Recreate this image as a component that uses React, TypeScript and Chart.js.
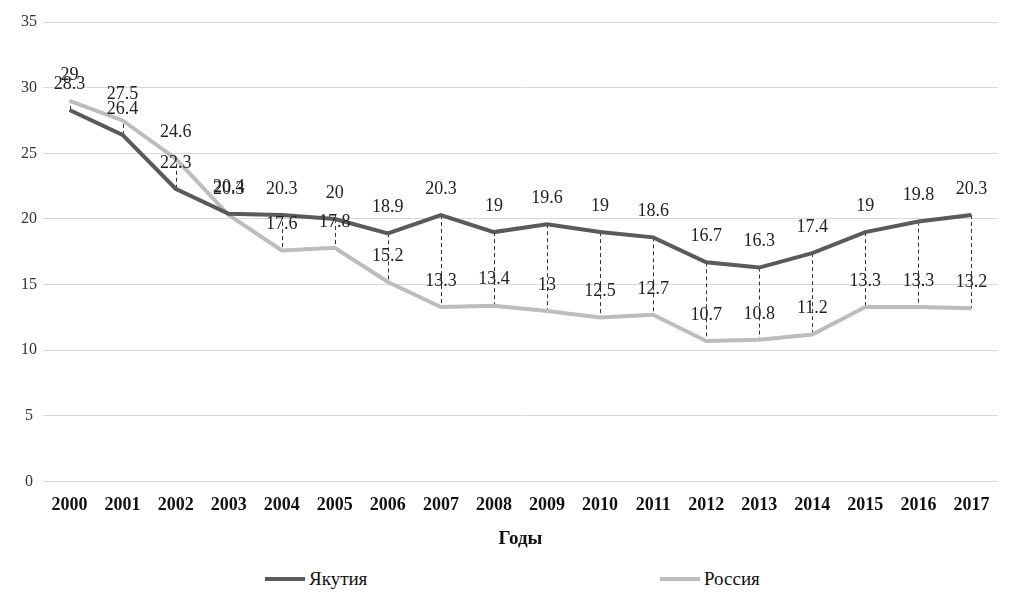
import React, { useEffect, useRef } from "react";
import { Chart, registerables } from "chart.js";

Chart.register(...registerables);

const years = ["2000","2001","2002","2003","2004","2005","2006","2007","2008","2009","2010","2011","2012","2013","2014","2015","2016","2017"];
const yakutia = [28.3, 26.4, 22.3, 20.4, 20.3, 20, 18.9, 20.3, 19, 19.6, 19, 18.6, 16.7, 16.3, 17.4, 19, 19.8, 20.3];
const russia = [29, 27.5, 24.6, 20.3, 17.6, 17.8, 15.2, 13.3, 13.4, 13, 12.5, 12.7, 10.7, 10.8, 11.2, 13.3, 13.3, 13.2];
const seriesNames = ["Якутия", "Россия"];
const xTitle = "Годы";

const DARK = "#5a5a5a";
const LIGHT = "#bdbdbd";
const SERIF = "'Liberation Serif', 'DejaVu Serif', serif";

const dropLines = {
  id: "dropLines",
  beforeDatasetsDraw(chart: any) {
    const ctx = chart.ctx;
    const m0 = chart.getDatasetMeta(0);
    const m1 = chart.getDatasetMeta(1);
    ctx.save();
    ctx.strokeStyle = "#333";
    ctx.lineWidth = 1;
    ctx.setLineDash([4, 3]);
    m0.data.forEach((p: any, i: number) => {
      const q = m1.data[i];
      if (!q) return;
      ctx.beginPath();
      ctx.moveTo(Math.round(p.x) + 0.5, p.y);
      ctx.lineTo(Math.round(p.x) + 0.5, q.y);
      ctx.stroke();
    });
    ctx.restore();
  },
};

const dataLabels = {
  id: "dataLabels",
  afterDatasetsDraw(chart: any) {
    const ctx = chart.ctx;
    ctx.save();
    ctx.font = `18px ${SERIF}`;
    ctx.fillStyle = "#222";
    ctx.textAlign = "center";
    ctx.textBaseline = "middle";
    chart.data.datasets.forEach((ds: any, di: number) => {
      const meta = chart.getDatasetMeta(di);
      meta.data.forEach((p: any, i: number) => {
        ctx.fillText(String(ds.data[i]), p.x, p.y - 26);
      });
    });
    ctx.restore();
  },
};

export default function App() {
  const ref = useRef<HTMLCanvasElement>(null);
  useEffect(() => {
    document.body.style.margin = "0";
    const chart = new Chart(ref.current!, {
      type: "line",
      data: {
        labels: years,
        datasets: [
          { label: seriesNames[0], data: yakutia, borderColor: DARK, backgroundColor: DARK, borderWidth: 4, pointRadius: 0, tension: 0 },
          { label: seriesNames[1], data: russia, borderColor: LIGHT, backgroundColor: LIGHT, borderWidth: 4, pointRadius: 0, tension: 0 },
        ],
      },
      options: {
        animation: false,
        responsive: false,
        maintainAspectRatio: false,
        layout: { padding: { top: 22, right: 18, left: 0, bottom: 0 } },
        plugins: { legend: { display: false }, tooltip: { enabled: false } },
        scales: {
          x: {
            offset: true,
            grid: { display: false },
            border: { display: false },
            ticks: { color: "#111", font: { family: SERIF, size: 18, weight: "bold" }, padding: 5, maxRotation: 0, autoSkip: false },
            title: { display: true, text: xTitle, color: "#111", font: { family: SERIF, size: 19, weight: "bold" }, padding: { top: 6, bottom: 0 } },
          },
          y: {
            min: 0,
            max: 35,
            ticks: { stepSize: 5, color: "#333", font: { family: SERIF, size: 16 }, crossAlign: "center", padding: 6 },
            grid: { color: "#d9d9d9", lineWidth: 1, drawTicks: false },
            border: { display: false },
            afterFit(scale: any) { scale.width = 43; },
          },
        },
      },
      plugins: [dropLines, dataLabels],
    });
    return () => chart.destroy();
  }, []);

  const item = (name: string, color: string) => (
    <div style={{ display: "flex", alignItems: "center", fontFamily: SERIF, fontSize: 19, color: "#111" }}>
      <span style={{ display: "inline-block", width: 40, height: 4, background: color, marginRight: 4 }} />
      {name}
    </div>
  );

  return (
    <div style={{ width: 1016, height: 598, background: "#fff", position: "relative" }}>
      <canvas ref={ref} width={1016} height={550} style={{ display: "block" }} />
      <div style={{ position: "absolute", top: 568, left: 0, width: 1016, height: 24 }}>
        <div style={{ position: "absolute", left: 265, top: 0 }}>{item(seriesNames[0], DARK)}</div>
        <div style={{ position: "absolute", left: 660, top: 0 }}>{item(seriesNames[1], LIGHT)}</div>
      </div>
    </div>
  );
}
